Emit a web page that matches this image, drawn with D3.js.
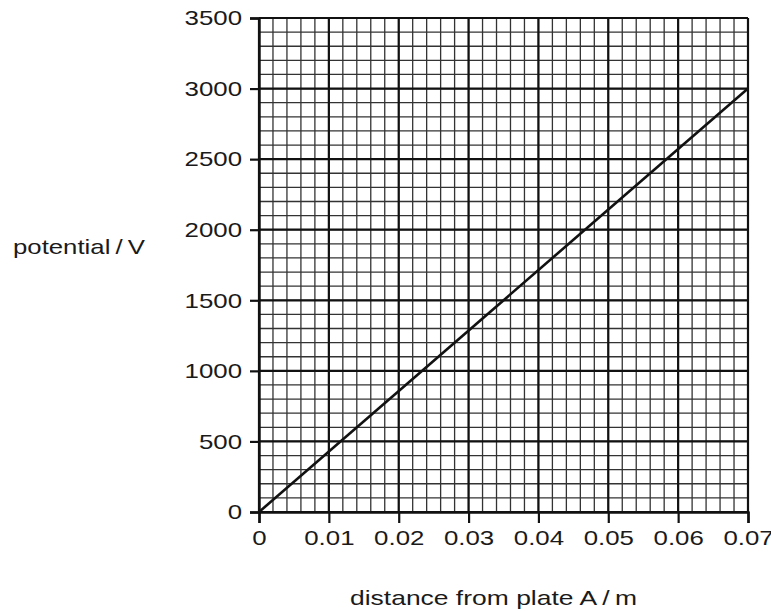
<!DOCTYPE html>
<html>
<head>
<meta charset="utf-8">
<script src="https://cdn.jsdelivr.net/npm/d3@7"></script>
<style>
  body { margin: 0; background: #fff; }
  text { font-family: "Liberation Sans", Arial, sans-serif; fill: #1a1a1a; }
</style>
</head>
<body>
<div id="chart"></div>
<script>
// data
var distance = [0, 0.07];
var potential = [0, 3000];
var xTicks = [0, 0.01, 0.02, 0.03, 0.04, 0.05, 0.06, 0.07];
var yTicks = [0, 500, 1000, 1500, 2000, 2500, 3000, 3500];
var xTickLabels = ["0", "0.01", "0.02", "0.03", "0.04", "0.05", "0.06", "0.07"];

var svgWidth = 771, svgHeight = 611;
var margin = { top: 18, left: 259, right: 23, bottom: 99 };
var width = svgWidth - margin.left - margin.right;
var height = svgHeight - margin.top - margin.bottom;

var svg = d3.select("#chart").append("svg")
  .attr("width", svgWidth)
  .attr("height", svgHeight);

var chartGroup = svg.append("g")
  .attr("transform", `translate(${margin.left}, ${margin.top})`);

var xScale = d3.scaleLinear().domain([0, 0.07]).range([0, width]);
var yScale = d3.scaleLinear().domain([0, 3500]).range([height, 0]);

// the scanned text is a bit wider than Arial, stretch it
function widen(sel, factor) {
  sel.each(function() {
    var w = this.getComputedTextLength();
    d3.select(this)
      .attr("textLength", w * factor)
      .attr("lengthAdjust", "spacingAndGlyphs");
  });
}

// minor grid: 5 squares per major division
var xMinor = d3.range(0, 36).map(i => i * 0.002);
var yMinor = d3.range(0, 36).map(i => i * 100);

chartGroup.append("g").selectAll("line")
  .data(xMinor)
  .enter().append("line")
  .attr("x1", d => xScale(d)).attr("x2", d => xScale(d))
  .attr("y1", 0).attr("y2", height)
  .attr("stroke", "#333").attr("stroke-width", 1.3);

chartGroup.append("g").selectAll("line")
  .data(yMinor)
  .enter().append("line")
  .attr("x1", 0).attr("x2", width)
  .attr("y1", d => yScale(d)).attr("y2", d => yScale(d))
  .attr("stroke", "#333").attr("stroke-width", 1.3);

// major grid
chartGroup.append("g").selectAll("line")
  .data(xTicks)
  .enter().append("line")
  .attr("x1", d => xScale(d)).attr("x2", d => xScale(d))
  .attr("y1", 0).attr("y2", height)
  .attr("stroke", "#111").attr("stroke-width", 2.2);

chartGroup.append("g").selectAll("line")
  .data(yTicks)
  .enter().append("line")
  .attr("x1", 0).attr("x2", width)
  .attr("y1", d => yScale(d)).attr("y2", d => yScale(d))
  .attr("stroke", "#111").attr("stroke-width", 2.2);

// axes
var xAxis = d3.axisBottom(xScale)
  .tickValues(xTicks)
  .tickFormat((d, i) => xTickLabels[i])
  .tickSize(11).tickPadding(7);
var yAxis = d3.axisLeft(yScale)
  .tickValues(yTicks)
  .tickFormat(d3.format("d"))
  .tickSize(9).tickPadding(8);

var xg = chartGroup.append("g")
  .attr("transform", `translate(0, ${height})`)
  .call(xAxis);
var yg = chartGroup.append("g").call(yAxis);

[xg, yg].forEach(g => {
  g.select(".domain").attr("stroke", "#111").attr("stroke-width", 2.4);
  g.selectAll(".tick line").attr("stroke", "#111").attr("stroke-width", 2.2);
  g.selectAll(".tick text")
    .style("font-family", "'Liberation Sans', Arial, sans-serif")
    .style("font-size", "21px")
    .attr("fill", "#1a1a1a")
    .call(widen, 1.23);
});

// the data line
var line = d3.line()
  .x((d, i) => xScale(distance[i]))
  .y(d => yScale(d));

chartGroup.append("path")
  .datum(potential)
  .attr("d", line)
  .attr("fill", "none")
  .attr("stroke", "#111")
  .attr("stroke-width", 2.6);

// axis titles
svg.append("text")
  .attr("x", 13).attr("y", 254)
  .style("font-size", "21px")
  .text("potential\u2009/\u2009V")
  .attr("textLength", 132)
  .attr("lengthAdjust", "spacingAndGlyphs");

svg.append("text")
  .attr("x", 350).attr("y", 605)
  .style("font-size", "21px")
  .text("distance from plate A\u2009/\u2009m")
  .attr("textLength", 287)
  .attr("lengthAdjust", "spacingAndGlyphs");
</script>
</body>
</html>
